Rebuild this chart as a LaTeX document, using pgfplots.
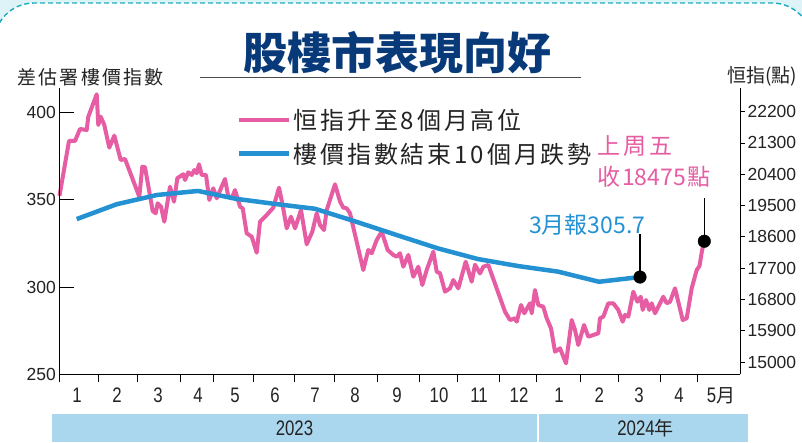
\documentclass[border=0pt]{standalone}
\usepackage{pgfplots}
\pgfplotsset{compat=1.18}
\usepackage{fontspec}
\setmainfont{Liberation Sans}
\newfontfamily\cjk{Noto Sans CJK TC}
\newfontfamily\cjkls{Noto Sans CJK TC}[LetterSpace=12]
\newfontfamily\narrow{Liberation Sans}[FakeStretch=0.8]
\definecolor{pinkc}{RGB}{230,93,163}
\definecolor{bluec}{RGB}{35,145,210}
\definecolor{titleblue}{RGB}{8,58,122}
\definecolor{bgcyan}{RGB}{222,243,247}
\definecolor{dashteal}{RGB}{30,170,190}
\definecolor{bandblue}{RGB}{170,214,238}
\definecolor{txt}{RGB}{35,35,35}
\begin{document}
\begin{tikzpicture}[x=1pt,y=1pt]
\useasboundingbox (0,0) rectangle (802,442);
\begin{scope}
\clip (0,0) rectangle (802,442);
\fill[bgcyan] (0,0) rectangle (802,442);
\filldraw[fill=white,draw=dashteal,line width=1.4pt,dash pattern=on 5pt off 3pt,rounded corners=40pt] (-6,-60) rectangle (812,439);
\end{scope}
\fill[bandblue] (52,0) rectangle (748,28);
\fill[white] (536.7,0) rectangle (538.7,28);
\node[text=txt,font=\narrow\fontsize{21}{21}\selectfont] at (294.5,14) {2023};
\node[text=txt] at (645.5,14) {{\narrow\fontsize{21}{21}\selectfont 2024}{\cjk\fontsize{19}{19}\selectfont 年}};
% title
\node[text=titleblue,font=\cjk\bfseries\fontsize{44}{44}\selectfont,inner sep=0pt] at (397.5,389.5) {股樓市表現向好};
\draw[black!70,line width=1.3pt] (200,364.5) -- (581,364.5);
\node[anchor=west,text=txt,font=\cjkls\fontsize{19}{19}\selectfont,inner sep=0pt] at (17,364.5) {差估署樓價指數};
\node[anchor=west,text=txt,font=\cjk\fontsize{19}{19}\selectfont,inner sep=0pt] at (727,365.5) {恒指(點)};
% annotations
\node[anchor=west,text=pinkc,font=\cjk\fontsize{23}{23}\selectfont,inner sep=0pt] at (597,296) {上\hspace{3pt}周\hspace{3pt}五};
\node[anchor=west,text=pinkc,font=\cjk\fontsize{23}{23}\selectfont,inner sep=0pt] at (597,265.5) {收\hspace{2pt}18475\hspace{1pt}點};
\node[anchor=west,text=bluec,font=\cjk\fontsize{23}{23}\selectfont,inner sep=0pt] at (529,217) {3月報305.7};

% x axis
\begin{axis}[at={(59.3pt,67.7pt)},anchor=south west,width=680.7pt,height=286pt,scale only axis,
  xmin=59.3,xmax=740,ymin=0,ymax=1,
  axis x line*=bottom, axis y line=none,
  x axis line style={line width=0.9pt,black},
  xtick={59.3,98.3,137,180.7,213.7,253.7,294.7,334,377.7,419,457.7,499.3,536.3,580.3,618.3,660.3,697.7},
  xticklabels={},
  xtick align=outside, major tick length=8pt,
  xtick style={line width=0.9pt,black},
  extra x ticks={77,117,158,198,235,275,315,355,397,439,479,519,559,599.3,639,679,721},
  extra x tick labels={1,2,3,4,5,6,7,8,9,10,11,12,1,2,3,4,5{\cjk\fontsize{19}{19}\selectfont 月}},
  extra x tick style={major tick length=0pt, tick label style={yshift=-10pt}},
  xticklabel style={font=\narrow\fontsize{21}{21}\selectfont,text=txt},
]
\end{axis}

% pink, right axis
\begin{axis}[at={(59.3pt,67.7pt)},anchor=south west,width=680.7pt,height=286pt,scale only axis,
  xmin=59.3,xmax=740,ymin=14650,ymax=22872,
  axis y line*=right, axis x line=none,
  y axis line style={line width=0.9pt,black},
  ytick={15000,15900,16800,17700,18600,19500,20400,21300,22200},
  scaled y ticks=false,
  ytick align=outside, major tick length=5pt,
  ytick style={line width=0.9pt,black},
  /pgf/number format/1000 sep={},
  /pgf/number format/assume math mode=true,
  yticklabel style={font=\fontsize{17.5}{17.5}\selectfont,text=txt,xshift=-1pt,/pgf/number format/fixed},
  clip=false,
  legend style={at={(0.26,0.935)},anchor=north west,draw=none,fill=none,
    font=\cjkls\fontsize{24}{24}\selectfont,text=txt,row sep=8pt,inner sep=0pt},
  legend cell align=left,
  legend image code/.code={\draw[#1] (0pt,0pt) -- (50pt,0pt);},
]
\addplot[pinkc,line width=4pt,line join=round] coordinates {
(59.5,19780)(69,21357)(75,21357)(80,21702)(86.7,21673)(88.3,22056)(96.7,22700)(98.3,21817)(100.7,22056)(104.3,21817)(109.3,21165)(114.3,21510)(120.7,20811)(125,20840)(139.3,19756)(142.3,20618)(145,20601)(152.7,19345)(155.7,19279)(157.7,19566)(161,19468)(164.3,19037)(170,20043)(174,19612)(177.3,20285)(183.3,20400)(185,20236)(188.3,20457)(191.7,20380)(194.3,20523)(196.7,20429)(199,20687)(201.7,20380)(206,20380)(209.3,19661)(213.3,19997)(216.7,19710)(225,20265)(228.3,19756)(231.7,19710)(235,19948)(240,19468)(242.7,19422)(246.7,18704)(251.7,18606)(256.7,18146)(260,19037)(266.7,19230)(273.3,19440)(279,20015)(282.3,19566)(286.7,18847)(291,19181)(295,18847)(301,19373)(306.7,18387)(312.3,18750)(316.7,19279)(320,18942)(324,18798)(326.7,19373)(335,20112)(340,19620)(343.3,19440)(346.7,19422)(350,19279)(363.3,17648)(368.3,18223)(371.7,18129)(376.7,18511)(381.7,18750)(387.7,18223)(393.3,18080)(396.7,18031)(400,18129)(403.3,17743)(408.3,18080)(413.3,17456)(418.3,17743)(422.3,17217)(426.7,17648)(433.3,18175)(436.7,17600)(440,17554)(445,17025)(450,17122)(453.3,17361)(458.3,17122)(465.7,17887)(471.7,17312)(475,17800)(480,17550)(483.3,17743)(488.3,17792)(505,16450)(510,16211)(515,16260)(516.7,16162)(521,16642)(524.3,16404)(530,16691)(531.7,16404)(535,17073)(538.3,16642)(543.3,16593)(546.7,16260)(551,15972)(555,15300)(560,15397)(566,14966)(571.7,16211)(575,15923)(578.3,15492)(584,16067)(588.3,15731)(598.3,15829)(600,16260)(603.3,16306)(608.3,16691)(613.3,16691)(618.3,16500)(622.7,16162)(625,16355)(628.3,16306)(633.3,17025)(637.3,16737)(640.7,16880)(642.7,16500)(646,16786)(649.3,16500)(651.7,16691)(655,16404)(663.3,16880)(666.7,16691)(670,16737)(675,17122)(682.7,16211)(686.7,16260)(691.7,17122)(696.7,17649)(699.5,17763)(702,18207)(704.3,18475)
};
\addlegendentry{恒指升至8個月高位}
\addlegendimage{bluec,line width=5pt}
\addlegendentry{樓價指數結束10個月跌勢}
\addplot[black,line width=1.6pt,forget plot] coordinates {(704.3,18475)(704.3,19720)};
\addplot[black,only marks,mark=*,mark size=6.3pt,forget plot] coordinates {(704.3,18475)};
\end{axis}

% blue, left axis
\begin{axis}[at={(59.3pt,67.7pt)},anchor=south west,width=680.7pt,height=286pt,scale only axis,
  xmin=59.3,xmax=740,ymin=250,ymax=413.8,
  axis y line*=left, axis x line=none,
  y axis line style={line width=0.9pt,black},
  ytick={250,300,350,400},
  ytick align=inside, major tick length=15pt,
  ytick style={line width=0.9pt,black},
  /pgf/number format/assume math mode=true,
  yticklabel style={font=\fontsize{17.5}{17.5}\selectfont,text=txt},
  clip=false,
]
\addplot[bluec,line width=4.5pt,line join=round] coordinates {
(76.7,338.9)(116.7,347.4)(157,352.7)(198,355.0)(236,350.5)(276,347.5)(315,344.8)(355,337.6)(397,329.7)(438,322.1)(478,316)(518,312)(558,308.8)(599,303.0)(640,305.7)
};
\addplot[black,line width=1.6pt] coordinates {(640,305.7)(640,330.5)};
\addplot[black,only marks,mark=*,mark size=6.3pt] coordinates {(640,305.7)};
\end{axis}
\end{tikzpicture}
\end{document}
